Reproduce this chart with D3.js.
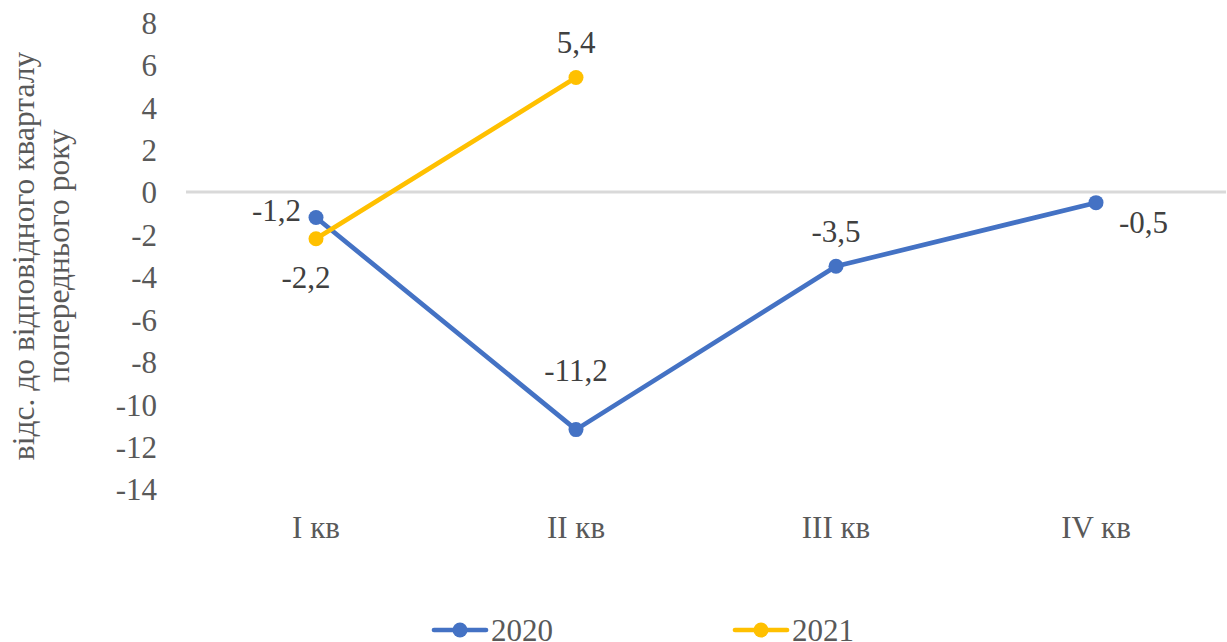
<!DOCTYPE html>
<html><head><meta charset="utf-8">
<script src="https://cdn.jsdelivr.net/npm/d3@7"></script>
<style>
html,body{margin:0;padding:0;background:#fff;}
svg{display:block;}
svg text{font-family:"Liberation Serif","Times New Roman",Tinos,"DejaVu Serif",serif;}
</style></head>
<body><svg id="c" width="1227" height="642"></svg>
<script>
const categories = ["I кв", "II кв", "III кв", "IV кв"];
const values2020 = [-1.2, -11.2, -3.5, -0.5];
const values2021 = [-2.2, 5.4, null, null];
const seriesNames = ["2020", "2021"];
const yTicks = [8, 6, 4, 2, 0, -2, -4, -6, -8, -10, -12, -14];
const yTitle = ["відс. до відповідного кварталу", "попереднього року"];
// label placement relative to point
const labelPos2020 = ["left", "above", "above", "right"];
const labelPos2021 = ["below", "above", null, null];

const FS = 31;
const svg = d3.select("#c");
const plot = {left: 186, right: 1226, top: 22.4, bottom: 489};
const x = d3.scaleBand().domain(categories).range([plot.left, plot.right]);
const y = d3.scaleLinear().domain([-14, 8]).range([plot.bottom, plot.top]);
const cx = d => x(d) + x.bandwidth() / 2;

// y axis labels
const yAxis = d3.axisLeft(y).tickValues(yTicks).tickSize(0).tickPadding(0)
  .tickFormat(d => String(d));
const gy = svg.append("g").attr("transform", `translate(157,0)`).call(yAxis);
gy.select(".domain").remove();
gy.attr("font-family", null);
gy.selectAll("text").attr("font-size", FS).attr("fill", "#595959").attr("dy", "0.35em");

// x axis labels
const xAxis = d3.axisBottom(x).tickSize(0).tickPadding(0);
const gx = svg.append("g").attr("transform", `translate(0,527)`).call(xAxis);
gx.select(".domain").remove();
gx.attr("font-family", null);
gx.selectAll("text").attr("font-size", FS).attr("fill", "#595959").attr("dy", "0.35em");

// zero line
svg.append("line").attr("x1", plot.left).attr("x2", plot.right)
  .attr("y1", y(0)).attr("y2", y(0)).attr("stroke", "#D9D9D9").attr("stroke-width", 3);

// axis title
const tt = svg.append("text").attr("transform", `translate(34,256) rotate(-90)`)
  .attr("text-anchor", "middle").attr("font-size", 31.5).attr("fill", "#595959");
tt.append("tspan").attr("x", 0).attr("dy", 0).text(yTitle[0]);
tt.append("tspan").attr("x", 0).attr("dy", 35).text(yTitle[1]);

const series = [
  {name: seriesNames[0], vals: values2020, color: "#4472C4", pos: labelPos2020},
  {name: seriesNames[1], vals: values2021, color: "#FFC000", pos: labelPos2021}
];
const line = d3.line().defined(d => d.v != null).x(d => cx(d.c)).y(d => y(d.v));
const fmt = v => String(v).replace(".", ",");
const ldx = {left: -15, right: 23, above: 0, below: -10};
const ldy = {left: -7, right: 19, above: -35, below: 38};

series.forEach(s => {
  const pts = categories.map((c, i) => ({c, v: s.vals[i], p: s.pos[i]}));
  svg.append("path").datum(pts).attr("d", line).attr("fill", "none")
    .attr("stroke", s.color).attr("stroke-width", 4.7).attr("stroke-linejoin", "round").attr("stroke-linecap", "round");
  const valid = pts.filter(d => d.v != null);
  svg.selectAll(null).data(valid).enter().append("circle")
    .attr("cx", d => cx(d.c)).attr("cy", d => y(d.v)).attr("r", 7.5).attr("fill", s.color);
  svg.selectAll(null).data(valid).enter().append("text")
    .attr("font-size", FS).attr("fill", "#404040")
    .attr("text-anchor", d => d.p === "left" ? "end" : d.p === "right" ? "start" : "middle")
    .attr("x", d => cx(d.c) + ldx[d.p])
    // the deepest label sits higher, clear of the line
    .attr("y", d => y(d.v) + ldy[d.p] + (d.v < -10 ? -24 : 0))
    .attr("dy", "0.35em")
    .text(d => fmt(d.v));
});

// legend
const legendX = [432, 733];
series.forEach((s, i) => {
  const g = svg.append("g").attr("transform", `translate(${legendX[i]},630)`);
  g.append("line").attr("x1", 2).attr("x2", 54).attr("y1", 0).attr("y2", 0)
    .attr("stroke", s.color).attr("stroke-width", 4.7).attr("stroke-linecap", "round");
  g.append("circle").attr("cx", 28).attr("cy", 0).attr("r", 7.5).attr("fill", s.color);
  g.append("text").attr("x", 59).attr("y", 0).attr("dy", "0.35em")
    .attr("font-size", FS).attr("fill", "#595959").text(s.name);
});
</script></body></html>
